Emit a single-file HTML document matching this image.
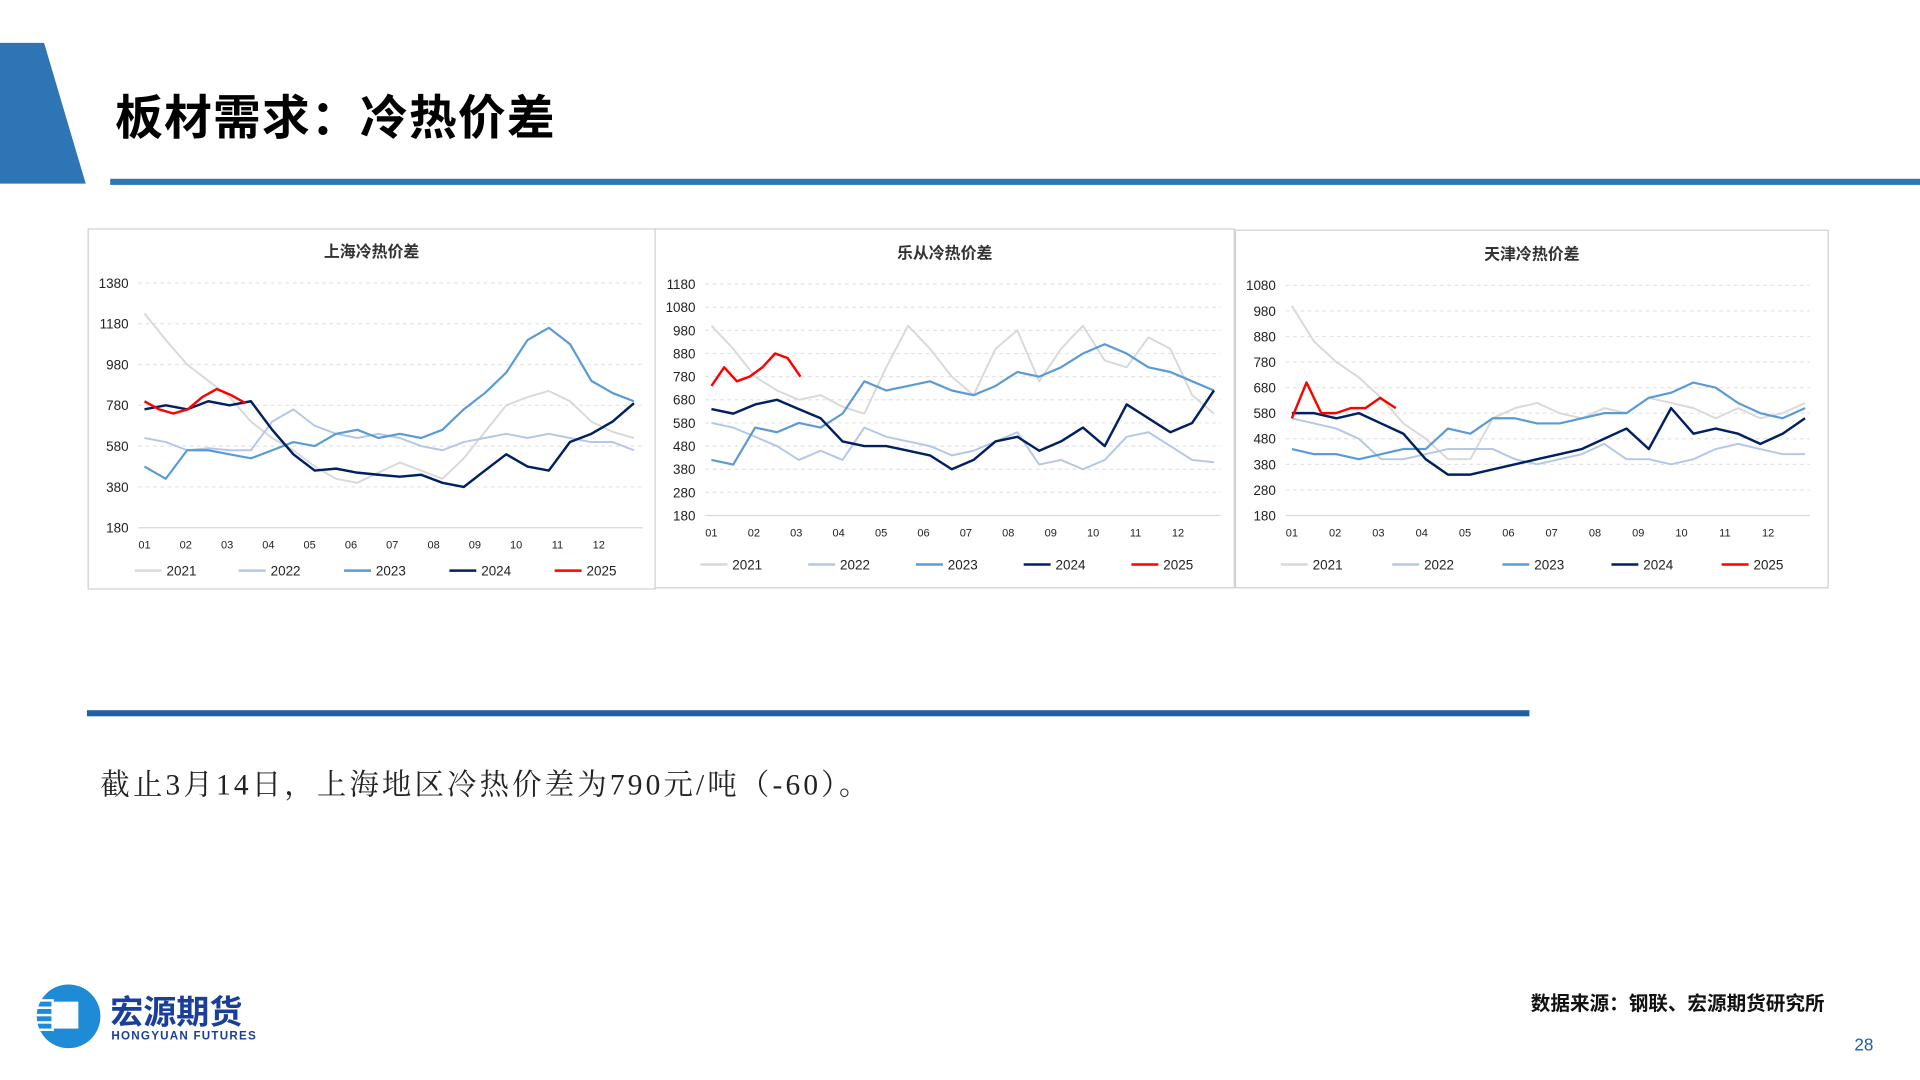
<!DOCTYPE html>
<html><head><meta charset="utf-8"><style>
html,body{margin:0;padding:0;background:#fff;width:1920px;height:1080px;overflow:hidden}
svg{display:block}
text{font-family:"Liberation Sans","Noto Sans CJK SC",sans-serif}
</style></head><body>
<svg id="page" width="1920" height="1080" viewBox="0 0 1568 882" preserveAspectRatio="none" xmlns="http://www.w3.org/2000/svg">
<polygon points="0,35 36,35 70,150 0,150" fill="#2e75b6"/>
<text x="94" y="110" font-size="39" font-weight="bold" fill="#000" letter-spacing="1">板材需求：冷热价差</text>
<rect x="90" y="146" width="1478" height="5" fill="#2e75b6"/>
<g id="charts"></g>
<rect x="71" y="580" width="1178" height="5" fill="#1f5fa8"/>
<text x="82" y="649" font-size="24" fill="#222" letter-spacing="2.6" style="font-family:'Liberation Serif','Noto Serif CJK SC',serif">截止3月14日，上海地区冷热价差为790元/吨（-60）。</text>
<text x="1490" y="825" font-size="16" font-weight="bold" text-anchor="end" fill="#111">数据来源：钢联、宏源期货研究所</text>
<text x="1530" y="858" font-size="14" text-anchor="end" fill="#1f5fa8">28</text>
<g>
<circle cx="56" cy="830" r="26" fill="#1f8ad6"/>
<rect x="42" y="818" width="22" height="22" fill="#fff"/>
<rect x="30" y="816" width="14" height="2" fill="#fff"/><rect x="30" y="822" width="14" height="2" fill="#fff"/><rect x="30" y="828" width="14" height="2" fill="#fff"/><rect x="30" y="834" width="14" height="2" fill="#fff"/><rect x="30" y="840" width="14" height="2" fill="#fff"/>
<text x="90" y="836" font-size="27" font-weight="bold" fill="#1a3f9a">宏源期货</text>
<text x="91" y="849" font-size="9.5" font-weight="bold" fill="#1a3f9a" letter-spacing="1">HONGYUAN FUTURES</text>
</g>
</svg>
<script>
// ---- data ----
const seriesNames = ["2021","2022","2023","2024","2025"];
const monthLabels = ["01","02","03","04","05","06","07","08","09","10","11","12"];
const sh2021 = [1230,1100,980,900,820,700,620,560,480,420,400,450,500,460,420,520,650,780,820,850,800,700,650,620];
const sh2022 = [620,600,560,570,560,560,700,760,680,640,620,640,620,580,560,600,620,640,620,640,620,600,600,560];
const sh2023 = [480,420,560,560,540,520,560,600,580,640,660,620,640,620,660,760,840,940,1100,1160,1080,900,840,800];
const sh2024 = [760,780,760,800,780,800,660,540,460,470,450,440,430,440,400,380,460,540,480,460,600,640,700,790];
const sh2025 = [800,760,740,760,820,860,830,790];
const sh2025Months = [0,0.35,0.7,1.05,1.4,1.75,2.1,2.45];
const shTicks = [180,380,580,780,980,1180,1380];
const lc2021 = [1000,900,780,720,680,700,650,620,820,1000,900,780,700,900,980,760,900,1000,850,820,950,900,700,620];
const lc2022 = [580,560,520,480,420,460,420,560,520,500,480,440,460,500,540,400,420,380,420,520,540,480,420,410];
const lc2023 = [420,400,560,540,580,560,620,760,720,740,760,720,700,740,800,780,820,880,920,880,820,800,760,720];
const lc2024 = [640,620,660,680,640,600,500,480,480,460,440,380,420,500,520,460,500,560,480,660,600,540,580,720];
const lc2025 = [740,820,760,780,820,880,860,780];
const lc2025Months = [0,0.3,0.6,0.9,1.2,1.5,1.8,2.1];
const lcTicks = [180,280,380,480,580,680,780,880,980,1080,1180];
const tj2021 = [1000,860,780,720,640,540,480,400,400,560,600,620,580,560,600,580,640,620,600,560,600,560,580,620];
const tj2022 = [560,540,520,480,400,400,420,440,440,440,400,380,400,420,460,400,400,380,400,440,460,440,420,420];
const tj2023 = [440,420,420,400,420,440,440,520,500,560,560,540,540,560,580,580,640,660,700,680,620,580,560,600];
const tj2024 = [580,580,560,580,540,500,400,340,340,360,380,400,420,440,480,520,440,600,500,520,500,460,500,560];
const tj2025 = [560,700,580,580,600,600,640,600];
const tj2025Months = [0,0.34,0.68,1.02,1.36,1.7,2.04,2.4];
const tjTicks = [180,280,380,480,580,680,780,880,980,1080];

const colors = ["#d9d9d9","#b4c7e7","#5b9bd5","#002060","#ff0000"];
const widths = [1.6,1.6,1.8,2,2];
const NS="http://www.w3.org/2000/svg";
function mk(tag,attrs,parent){const e=document.createElementNS(NS,tag);for(const k in attrs)e.setAttribute(k,attrs[k]);parent.appendChild(e);return e;}

const charts=[
 {id:"shanghai",title:"上海冷热价差",box:[72,187,463,294],x01:118,x12:489,xl:113,xr:525,yTop:231,yBot:431,ticks:shTicks,titleY:210,xlabY:448,legY:466,legX:[110,195,281,367,453],series:[sh2021,sh2022,sh2023,sh2024,sh2025],red:sh2025Months},
 {id:"lecong",title:"乐从冷热价差",box:[535,187,473,293],x01:581,x12:962,xl:576,xr:997,yTop:232,yBot:421,ticks:lcTicks,titleY:211,xlabY:438,legY:461,legX:[572,660,748,836,924],series:[lc2021,lc2022,lc2023,lc2024,lc2025],red:lc2025Months},
 {id:"tianjin",title:"天津冷热价差",box:[1009,188,484,292],x01:1055,x12:1444,xl:1050,xr:1478,yTop:233,yBot:421,ticks:tjTicks,titleY:212,xlabY:438,legY:461,legX:[1046,1137,1227,1316,1406],series:[tj2021,tj2022,tj2023,tj2024,tj2025],red:tj2025Months}
];
const root=document.getElementById('charts');
charts.forEach(c=>{
 const g=mk('g',{},root);
 
 
 const b=mk('rect',{x:c.box[0],y:c.box[1],width:c.box[2],height:c.box[3],fill:"#fff",stroke:"#d0d0d0","stroke-width":1},g);
 
 
 const t=mk('text',{x:c.box[0]+c.box[2]/2,y:c.titleY,"font-size":13,"font-weight":"bold","text-anchor":"middle",fill:"#333"},g);
 t.textContent=c.title;
 
 
 const tmin=c.ticks[0],tmax=c.ticks[c.ticks.length-1];
 const Y=v=>c.yBot-(v-tmin)/(tmax-tmin)*(c.yBot-c.yTop);
 const X=m=>c.x01+m*(c.x12-c.x01)/11;
 c.ticks.forEach((v,i)=>{
  if(i>0){const gl=mk('line',{x1:c.xl,x2:c.xr,y1:Y(v),y2:Y(v),stroke:"#e4e4e4","stroke-dasharray":"3,3"},g);
   
   }
  const tl=mk('text',{x:c.xl-8,y:Y(v)+4,"font-size":11,"text-anchor":"end",fill:"#222"},g);
  tl.textContent=v;
  
  
 });
 const ax=mk('line',{x1:c.xl,x2:c.xr,y1:c.yBot,y2:c.yBot,stroke:"#d9d9d9"},g);
 
 
 monthLabels.forEach((m,i)=>{
  const xl=mk('text',{x:X(i),y:c.xlabY,"font-size":9,"text-anchor":"middle",fill:"#222"},g);
  xl.textContent=m;
  
  
 });
 c.series.forEach((arr,si)=>{
  const pts=arr.map((v,i)=>{const m=si===4?c.red[i]:i*11.85/(arr.length-1);return X(m).toFixed(1)+","+Y(v).toFixed(1);}).join(" ");
  const p=mk('polyline',{points:pts,fill:"none",stroke:colors[si],"stroke-width":widths[si],"stroke-linejoin":"round"},g);
  
  
 });
 seriesNames.forEach((n,si)=>{
  const lg=mk('g',{},g);
  
  
  const x=c.legX[si];
  mk('line',{x1:x,x2:x+22,y1:c.legY,y2:c.legY,stroke:colors[si],"stroke-width":2},lg);
  const lt=mk('text',{x:x+26,y:c.legY+4,"font-size":11,fill:"#222"},lg);
  lt.textContent=n;
 });
});
</script>
</body></html>
